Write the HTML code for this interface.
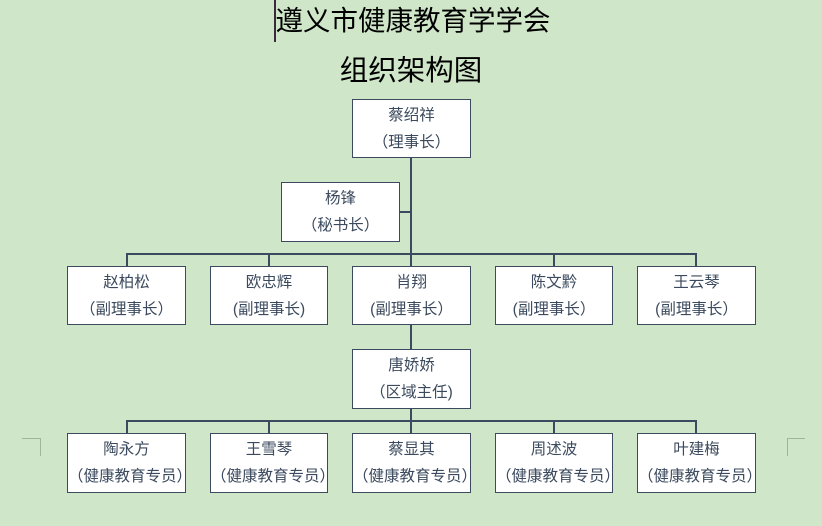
<!DOCTYPE html>
<html><head><meta charset="utf-8"><style>
body{margin:0;width:822px;height:526px;background:#cfe6c9;position:relative;overflow:hidden;font-family:"Liberation Sans","Noto Sans CJK SC",sans-serif}
.t{position:absolute;left:0;width:822px;text-align:center;color:#000;font-size:27.5px;line-height:34px}
.b{position:absolute;background:#fff;border:1.3px solid #3b4a5e;box-sizing:border-box;color:#3b4a5e;font-size:15.5px;text-align:center;line-height:27px;padding-top:2px;white-space:nowrap}
.l{position:absolute;background:#3b4a5e}
.m{position:absolute;background:#9fb59c}
</style></head><body>
<div class="t" style="top:4px;left:2px">遵义市健康教育学学会</div>
<div class="t" style="top:54px;font-size:28.5px">组织架构图</div>
<div style="position:absolute;left:274px;top:0;width:2px;height:42px;background:#3a2a3a"></div>
<div class="l" style="left:410px;top:157px;width:1.5px;height:276px"></div>
<div class="l" style="left:399px;top:211px;width:12px;height:1.5px"></div>
<div class="l" style="left:126px;top:253px;width:570px;height:1.5px"></div>
<div class="l" style="left:126px;top:420px;width:570px;height:1.5px"></div>
<div class="l" style="left:126px;top:253px;width:1.5px;height:13px"></div>
<div class="l" style="left:268px;top:253px;width:1.5px;height:13px"></div>
<div class="l" style="left:553px;top:253px;width:1.5px;height:13px"></div>
<div class="l" style="left:695px;top:253px;width:1.5px;height:13px"></div>
<div class="l" style="left:126px;top:420px;width:1.5px;height:13px"></div>
<div class="l" style="left:268px;top:420px;width:1.5px;height:13px"></div>
<div class="l" style="left:553px;top:420px;width:1.5px;height:13px"></div>
<div class="l" style="left:695px;top:420px;width:1.5px;height:13px"></div>
<div class="m" style="left:22px;top:438px;width:18px;height:1px"></div>
<div class="m" style="left:40px;top:438px;width:1px;height:18px"></div>
<div class="m" style="left:787px;top:438px;width:18px;height:1px"></div>
<div class="m" style="left:787px;top:438px;width:1px;height:18px"></div>
<div class="b" style="left:352px;top:99px;width:119px;height:59px">蔡绍祥<br>（理事长）</div>
<div class="b" style="left:281px;top:182px;width:119px;height:60px">杨锋<br>（秘书长）</div>
<div class="b" style="left:67px;top:266px;width:119px;height:59px">赵柏松<br>（副理事长）</div>
<div class="b" style="left:210px;top:266px;width:118px;height:59px">欧忠辉<br>(副理事长)</div>
<div class="b" style="left:352px;top:266px;width:119px;height:59px">肖翔<br>(副理事长）</div>
<div class="b" style="left:495px;top:266px;width:118px;height:59px">陈文黔<br>(副理事长）</div>
<div class="b" style="left:637px;top:266px;width:119px;height:59px">王云琴<br>(副理事长）</div>
<div class="b" style="left:352px;top:349px;width:119px;height:60px">唐娇娇<br>（区域主任)</div>
<div class="b" style="left:67px;top:433px;width:119px;height:60px">陶永方<br>（健康教育专员）</div>
<div class="b" style="left:210px;top:433px;width:118px;height:60px">王雪琴<br>（健康教育专员）</div>
<div class="b" style="left:352px;top:433px;width:119px;height:60px">蔡显其<br>（健康教育专员）</div>
<div class="b" style="left:495px;top:433px;width:118px;height:60px">周述波<br>（健康教育专员）</div>
<div class="b" style="left:637px;top:433px;width:119px;height:60px">叶建梅<br>（健康教育专员）</div>
</body></html>
